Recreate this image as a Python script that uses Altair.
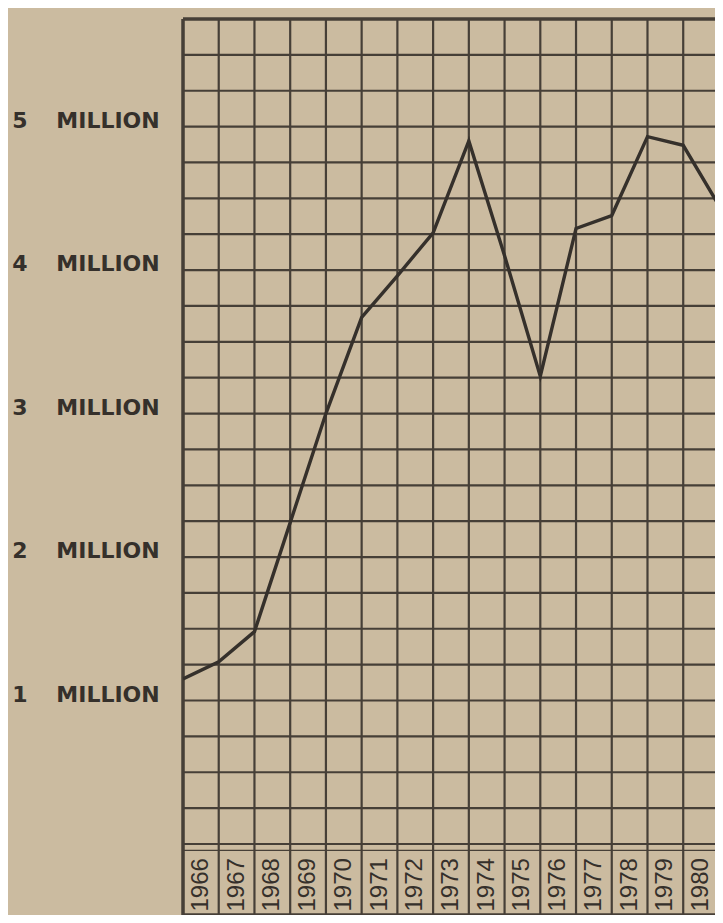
import altair as alt
import pandas as pd

# ---- data ----
years = [1966, 1967, 1968, 1969, 1970, 1971, 1972, 1973,
         1974, 1975, 1976, 1977, 1978, 1979, 1980, 1981]
values_million = [1.15, 1.27, 1.48, 2.24, 3.00, 3.67, 3.96, 4.26,
                  4.90, 4.10, 3.26, 4.29, 4.38, 4.93, 4.87, 4.45]
year_labels = ["1966", "1967", "1968", "1969", "1970", "1971", "1972", "1973",
               "1974", "1975", "1976", "1977", "1978", "1979", "1980"]
y_tick_values = [1, 2, 3, 4, 5]
y_tick_numbers = ["1", "2", "3", "4", "5"]
y_tick_word = "MILLION"
grid_step = 0.25
y_top = 5.75
y_band_bottom = -0.495
col_px = 35.73

PAPER = "#cbbba0"
INK = "#463f37"
LINE_INK = "#35302b"

W, H = 532, 896
x_max = 1966 + W / col_px

xs = alt.Scale(domain=[1966, x_max], nice=False, zero=False)
ys = alt.Scale(domain=[y_band_bottom, y_top], nice=False, zero=False)

series = pd.DataFrame({"year": years, "value": values_million})
hgrid = pd.DataFrame({"v": [i * grid_step for i in range(int(y_top / grid_step) + 1)]})
vgrid = pd.DataFrame({"yr": years})
labels_df = pd.DataFrame({"mid": [int(l) + 0.5 for l in year_labels], "label": year_labels,
                          "pos": [-0.285] * len(year_labels)})
ytick_df = pd.DataFrame({"v": y_tick_values, "num": y_tick_numbers,
                         "word": [y_tick_word] * len(y_tick_values)})

h_rules = alt.Chart(hgrid).mark_rule(color=INK, strokeWidth=2.2).encode(
    y=alt.Y("v:Q", scale=ys, axis=None),
    x=alt.value(0), x2=alt.value(W),
)
v_rules = alt.Chart(vgrid).mark_rule(color=INK, strokeWidth=2.2, clip=True).encode(
    x=alt.X("yr:Q", scale=xs, axis=None),
    y=alt.value(0), y2=alt.value(H),
)
band_top = alt.Chart(pd.DataFrame({"v": [-0.045]})).mark_rule(color=INK, strokeWidth=1.2).encode(
    y=alt.Y("v:Q", scale=ys, axis=None),
    x=alt.value(0), x2=alt.value(W),
)
borders_h = alt.Chart(pd.DataFrame({"v": [y_top, y_band_bottom]})).mark_rule(
    color=INK, strokeWidth=3.5).encode(
    y=alt.Y("v:Q", scale=ys, axis=None),
    x=alt.value(0), x2=alt.value(W),
)
border_left = alt.Chart(pd.DataFrame({"yr": [1966]})).mark_rule(
    color=INK, strokeWidth=3.5).encode(
    x=alt.X("yr:Q", scale=xs, axis=None),
    y=alt.value(0), y2=alt.value(H),
)

line = alt.Chart(series).mark_line(color=LINE_INK, strokeWidth=3.4, strokeJoin="miter",
                                   clip=True).encode(
    x=alt.X("year:Q", scale=xs, axis=None),
    y=alt.Y("value:Q", scale=ys, axis=None),
)

year_text = alt.Chart(labels_df).mark_text(
    angle=270, font="Liberation Sans", fontSize=24, color=LINE_INK,
    baseline="middle", align="center",
).encode(
    x=alt.X("mid:Q", scale=xs, axis=None),
    y=alt.Y("pos:Q", scale=ys, axis=None),
    text="label:N",
)

num_text = alt.Chart(ytick_df).mark_text(
    font="DejaVu Sans", fontWeight="bold", fontSize=22, color=LINE_INK,
    align="center", baseline="middle", dy=-6,
).encode(
    x=alt.value(-163),
    y=alt.Y("v:Q", scale=ys, axis=None),
    text="num:N",
)
word_text = alt.Chart(ytick_df).mark_text(
    font="DejaVu Sans", fontWeight="bold", fontSize=22, color=LINE_INK,
    align="center", baseline="middle", dy=-6,
).encode(
    x=alt.value(-75),
    y=alt.Y("v:Q", scale=ys, axis=None),
    text="word:N",
)

chart = alt.layer(
    h_rules, v_rules, band_top, borders_h, border_left, line, year_text, num_text, word_text
).properties(
    width=W, height=H,
    autosize="none",
    padding={"left": 175, "top": 11, "right": 0, "bottom": 0},
    background=PAPER,
).configure_view(stroke=None)

chart.save("out.html", embed_options={"renderer": "svg", "actions": False})
